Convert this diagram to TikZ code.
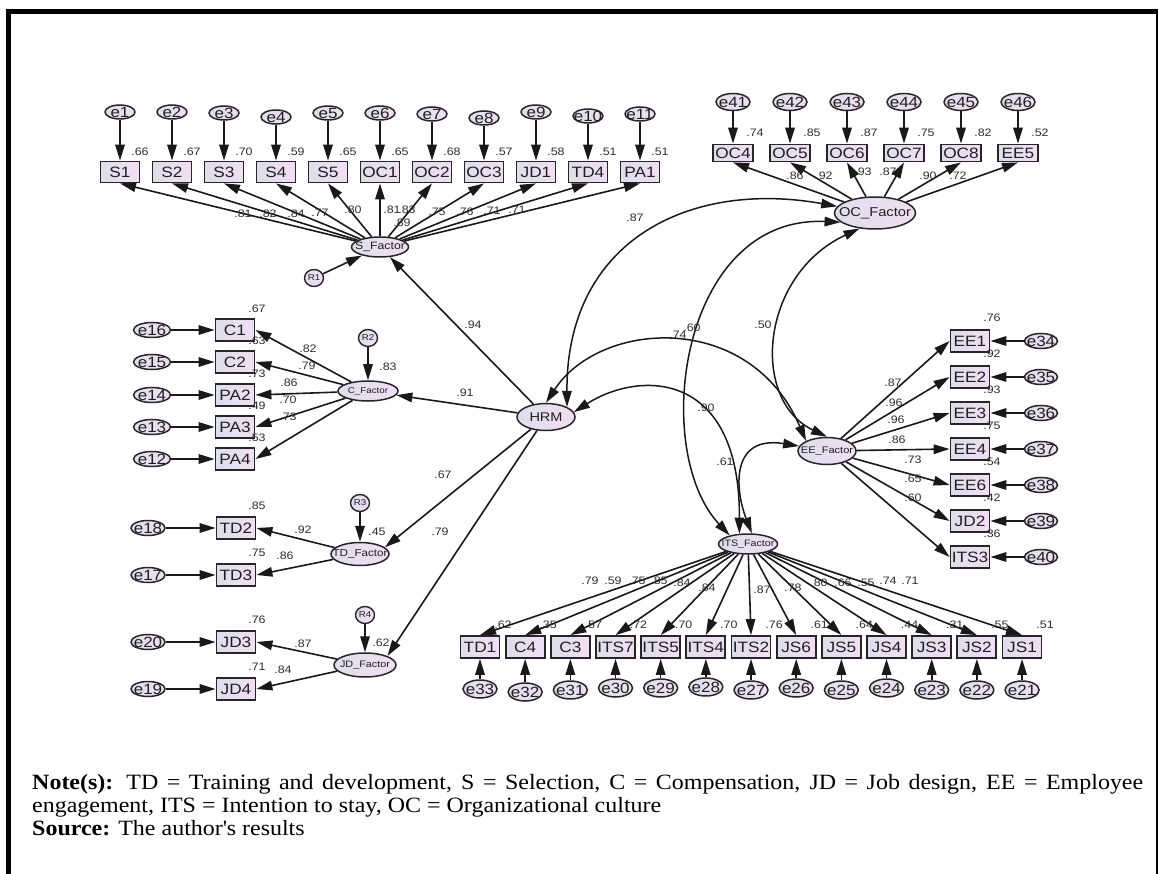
\documentclass[tikz,border=0pt]{standalone}
\usepackage{fontspec}
\setmainfont{Liberation Sans}[FakeStretch=1.15]
\newfontfamily\notefont{Liberation Serif}[FakeStretch=1.1]
\usetikzlibrary{shapes.geometric,arrows.meta}

\definecolor{fillL}{RGB}{221,222,236}
\definecolor{fillR}{RGB}{242,222,244}
\definecolor{edge}{RGB}{38,38,38}
\definecolor{numc}{RGB}{45,45,45}
\newcommand{\fsz}[1]{\fontsize{#1}{#1}\selectfont}

\begin{document}
\begin{tikzpicture}[x=1pt,y=-1pt,>={Triangle[length=16pt,width=9.5pt]},
  obs/.style={rectangle,draw=edge,line width=1.8pt,inner sep=0pt,minimum width=39pt,
    minimum height=21pt,left color=fillL,right color=fillR,font=\fsz{15},text=black!88},
  err/.style={ellipse,draw=edge,line width=1.5pt,inner sep=-20pt,minimum width=31pt,
    minimum height=15pt,left color=fillL,right color=fillR,font=\fsz{14.8},text=black!88},
  res/.style={ellipse,draw=edge,line width=1.4pt,inner sep=-20pt,minimum width=19pt,
    minimum height=17pt,left color=fillL,right color=fillR,font=\fsz{8.5},text=black!88},
  lat/.style={ellipse,draw=edge,line width=1.5pt,inner sep=-30pt,left color=fillL,
    right color=fillR,text=black!88},
  lnk/.style={->,line width=1.6pt,draw=black!90},
  cov/.style={<->,line width=1.5pt,draw=black!90},
  num/.style={font=\fsz{10.8},text=numc,inner sep=0pt},
  note/.style={anchor=base west,inner sep=0pt,font=\notefont\fontsize{21.8}{23}\selectfont}]

\useasboundingbox (0,0) rectangle (1159,874);

% frame
\draw[line width=5.5pt,line join=miter] (8.5,874) -- (8.5,11.5) -- (1158,11.5);
\draw[line width=2pt] (1157,11.5) -- (1157,874);

% latent variables
\node[lat,minimum width=58pt,minimum height=27pt,font=\fsz{12.6}] (HRM) at (546,417) {HRM};
\node[lat,minimum width=57pt,minimum height=20pt,font=\fsz{10.7}] (SF) at (380,247) {S\_Factor};
\node[lat,minimum width=81pt,minimum height=32pt,font=\fsz{12.8}] (OCF) at (875,213) {OC\_Factor};
\node[lat,minimum width=60pt,minimum height=20pt,font=\fsz{8.5}] (CF) at (368,391) {C\_Factor};
\node[lat,minimum width=58pt,minimum height=23pt,font=\fsz{10.1}] (TDF) at (360,554) {TD\_Factor};
\node[lat,minimum width=62pt,minimum height=24pt,font=\fsz{9.4}] (JDF) at (365,665) {JD\_Factor};
\node[lat,minimum width=58pt,minimum height=27pt,font=\fsz{9.6}] (EEF) at (827,451) {EE\_Factor};
\node[lat,minimum width=59pt,minimum height=20pt,font=\fsz{9.3}] (ITSF) at (748,544) {ITS\_Factor};

% structural residuals
\node[res] (R1) at (314,278) {R1};
\node[res] (R2) at (368,338) {R2};
\node[res] (R3) at (360,503) {R3};
\node[res] (R4) at (365,615) {R4};
\draw[lnk] (R1) -- (SF);
\draw[lnk] (R2) -- (CF);
\draw[lnk] (R3) -- (TDF);
\draw[lnk] (R4) -- (JDF);

% HRM paths
\draw[lnk] (HRM) -- (SF);
\draw[lnk] (HRM) -- (CF);
\draw[lnk] (HRM) -- (TDF.15);
\draw[lnk] (HRM) -- (JDF.north east);

% S indicators (top row)
\foreach \n/\x/\ey/\r [count=\i] in {S1/120/112/.66,S2/172/112/.67,S3/224/113/.70,
  S4/276/117/.59,S5/328/113/.65,OC1/380/113/.65,OC2/432/114/.68,OC3/484/118/.57,
  JD1/536/112/.58,TD4/588/116/.51,PA1/640/114/.51}{
  \node[obs] (\n) at (\x,172) {\n};
  \node[err,minimum width=30pt,minimum height=14pt] (e\i) at (\x,\ey) {e\i};
  \draw[lnk] (e\i) -- (\n);
  \draw[lnk] (SF) -- (\n.south);
  \node[num] (rs\i) at (\x+20,152) {\r};
}

% OC indicators
\foreach \n/\x/\r [count=\i from 41] in {OC4/733/.74,OC5/790/.85,OC6/847/.87,
  OC7/904/.75,OC8/961/.82,EE5/1018/.52}{
  \node[obs,minimum width=40pt,minimum height=17pt] (\n) at (\x,153) {\n};
  \node[err,minimum width=34pt,minimum height=17pt] (e\i) at (\x,102) {e\i};
  \draw[lnk] (e\i) -- (\n);
  \draw[lnk] (OCF) -- (\n.south);
  \node[num] (ro\i) at (\x+22,133) {\r};
}

% C indicators
\foreach \n/\y/\r [count=\i] in {C1/330/.67,C2/362/.63,PA2/395/.73,PA3/427/.49,PA4/459/.53}{
  \pgfmathtruncatemacro{\k}{17-\i}
  \node[obs,minimum height=22pt] (\n) at (235,\y) {\n};
  \node[err,minimum width=37pt,minimum height=15pt] (e\k) at (152,\y) {e\k};
  \draw[lnk] (e\k) -- (\n);
  \draw[lnk] (CF) -- (\n.east);
  \node[num] (rc\i) at (257,\y-21) {\r};
}

% TD and JD indicators
\foreach \n/\y/\k/\r/\f in {TD2/528/18/.85/TDF,TD3/575/17/.75/TDF,JD3/642/20/.76/JDF,JD4/689/19/.71/JDF}{
  \node[obs,minimum height=22pt] (\n) at (236,\y) {\n};
  \node[err,minimum width=34pt,minimum height=15pt] (e\k) at (148,\y) {e\k};
  \draw[lnk] (e\k) -- (\n);
  \draw[lnk] (\f) -- (\n.east);
  \node[num] (rt\k) at (257,\y-22) {\r};
}

% EE indicators
\foreach \n/\y/\r [count=\i from 34] in {EE1/341/.76,EE2/377/.92,EE3/413/.93,
  EE4/449/.75,EE6/485/.54,JD2/521/.42,ITS3/557/.36}{
  \node[obs,minimum height=22pt] (\n) at (970,\y) {\n};
  \node[err,minimum width=33pt,minimum height=15pt] (e\i) at (1041,\y) {e\i};
  \draw[lnk] (e\i) -- (\n);
  \draw[lnk] (EEF) -- (\n.west);
  \node[num] (re\i) at (992,\y-23) {\r};
}

% ITS indicators (bottom row)
\foreach \n/\ey/\r [count=\i from 0] in {TD1/689/.62,C4/692/.35,C3/690/.57,ITS7/688/.72,
  ITS5/688/.70,ITS4/687/.70,ITS2/690/.76,JS6/688/.61,JS5/690/.64,JS4/688/.44,
  JS3/690/.31,JS2/690/.55,JS1/690/.51}{
  \pgfmathsetmacro{\x}{480+45.17*\i}
  \pgfmathtruncatemacro{\k}{33-\i}
  \node[obs,minimum height=22pt] (\n) at (\x,647) {\n};
  \node[err,minimum width=34pt,minimum height=18pt] (e\k) at (\x,\ey) {e\k};
  \draw[lnk] (e\k) -- (\n);
  \draw[lnk] (ITSF) -- (\n.north);
  \node[num] (ri\k) at (\x+23,625) {\r};
}

% covariances
\draw[cov] (HRM.north east) .. controls (566,240) and (690,180) .. (OCF.170);
\draw[cov] (HRM.north) .. controls (600,320) and (750,310) .. (EEF.north west);
\draw[cov] (OCF.195) .. controls (680,215) and (650,450) .. (ITSF.155);
\draw[cov] (OCF.225) .. controls (760,275) and (750,400) .. (EEF.north);
\draw[cov] (HRM.10) .. controls (640,370) and (740,370) .. (ITSF.130);
\draw[cov] (EEF.170) .. controls (730,435) and (735,490) .. (ITSF.70);

% coefficients
\foreach \x/\y/\t [count=\i] in {243/214/.81,268/214/.82,296/214/.84,320/213/.77,
  353/210/.80,392/210/.81,407/210/.83,402/223/.89,437/212/.75,465/212/.76,492/211/.71,
  517/210/.71,
  795/176/.86,824/176/.92,863/172/.93,888/172/.87,928/176/.90,958/176/.72,
  308/349/.82,307/366/.79,289/383/.86,288/400/.70,288/417/.73,388/367/.83,
  303/530/.92,377/532/.45,285/556/.86,303/644/.87,381/643/.62,283/670/.84,
  473/325/.94,465/393/.91,443/475/.67,440/532/.79,
  635/218/.87,678/335/.74,692/328/.60,763/325/.50,706/408/.90,725/462/.61,
  893/383/.87,894/403/.96,896/420/.96,897/440/.86,913/460/.73,913/479/.65,913/498/.60,
  590/581/.79,613/581/.59,637/581/.75,659/581/.85,682/583/.84,707/588/.84,762/590/.87,
  793/588/.78,819/583/.80,843/583/.66,866/583/.55,888/581/.74,910/581/.71}{
  \node[num] (c\i) at (\x,\y) {\t};
}

% note
\node[note] (note1) at (32,789) {\makebox[1111pt][s]{\textbf{Note(s):} TD = Training and development, S = Selection, C = Compensation, JD = Job design, EE = Employee}};
\node[note] (note2) at (32,812) {engagement, ITS = Intention to stay, OC = Organizational culture};
\node[note] (note3) at (32,835) {\textbf{Source:} The author\textquotesingle s results};
\end{tikzpicture}
\end{document}
